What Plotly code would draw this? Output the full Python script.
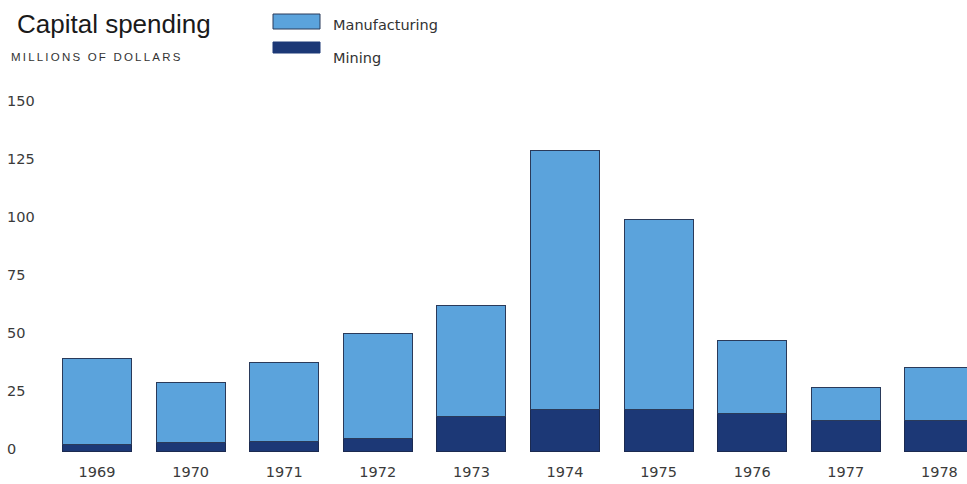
import plotly.graph_objects as go

years = ["1969", "1970", "1971", "1972", "1973", "1974", "1975", "1976", "1977", "1978"]
mining = [3, 4, 4.5, 5.5, 15, 18, 18, 16.5, 13.5, 13.5]
manufacturing = [37, 26, 34, 45.5, 48, 112, 82, 31.5, 14, 23]
y_ticks = [0, 25, 50, 75, 100, 125, 150]

LIGHT = "#5ba3dc"
DARK = "#1c3876"
FONT = "Liberation Sans, Arial, sans-serif"
TFONT = "DejaVu Sans, sans-serif"

fig = go.Figure()
fig.add_trace(go.Bar(x=years, y=mining, name="Mining", marker=dict(color=DARK, line=dict(color="#1b2a50", width=1)), showlegend=False))
fig.add_trace(go.Bar(x=years, y=manufacturing, name="Manufacturing", marker=dict(color=LIGHT, line=dict(color="#2a3a5a", width=1)), showlegend=False))

W, H = 967, 484
L, R, T, B = 4, 0, 92, 23
pw, ph = W - L - R, H - T - B

def px(x):
    return (x - L) / pw

def py(y):
    return (H - B - y) / ph

fig.update_layout(
    width=W, height=H,
    margin=dict(l=L, r=R, t=T, b=B),
    barmode="stack",
    bargap=0.263,
    plot_bgcolor="white",
    paper_bgcolor="white",
    font=dict(family=TFONT, color="#3a3a3a", size=14),
    xaxis=dict(
        type="category", range=[-0.994, 9.295], showgrid=False, zeroline=False,
        showline=False, ticks="",
        tickfont=dict(size=14.5, color="#3a3a3a", family=TFONT),
    ),
    yaxis=dict(
        range=[-4, 155], tickvals=y_ticks, showgrid=False, zeroline=False, showline=False,
        ticklabelposition="inside", ticklabelshift=-3,
        tickfont=dict(size=14.5, color="#3a3a3a", family=TFONT),
    ),
    shapes=[
        dict(type="rect", xref="paper", yref="paper", x0=px(273), x1=px(320), y0=py(29), y1=py(14),
             fillcolor=LIGHT, line=dict(color="#2a3a5a", width=1)),
        dict(type="rect", xref="paper", yref="paper", x0=px(273), x1=px(320), y0=py(53), y1=py(42),
             fillcolor=DARK, line=dict(color=DARK, width=1)),
    ],
    annotations=[
        dict(text="Capital spending", xref="paper", yref="paper", x=px(15), y=py(24),
             xanchor="left", yanchor="middle", showarrow=False,
             font=dict(size=26, color="#1a1a1a", family=FONT)),
        dict(text='<span style="letter-spacing:2.2px">MILLIONS OF DOLLARS</span>',
             xref="paper", yref="paper", x=px(9), y=py(57),
             xanchor="left", yanchor="middle", showarrow=False,
             font=dict(size=11.5, color="#333333", family=FONT)),
        dict(text="Manufacturing", xref="paper", yref="paper", x=px(331), y=py(25),
             xanchor="left", yanchor="middle", showarrow=False,
             font=dict(size=14.5, color="#333333", family=TFONT)),
        dict(text="Mining", xref="paper", yref="paper", x=px(331), y=py(58),
             xanchor="left", yanchor="middle", showarrow=False,
             font=dict(size=14.5, color="#333333", family=TFONT)),
    ],
)

fig.write_html("out.html")
